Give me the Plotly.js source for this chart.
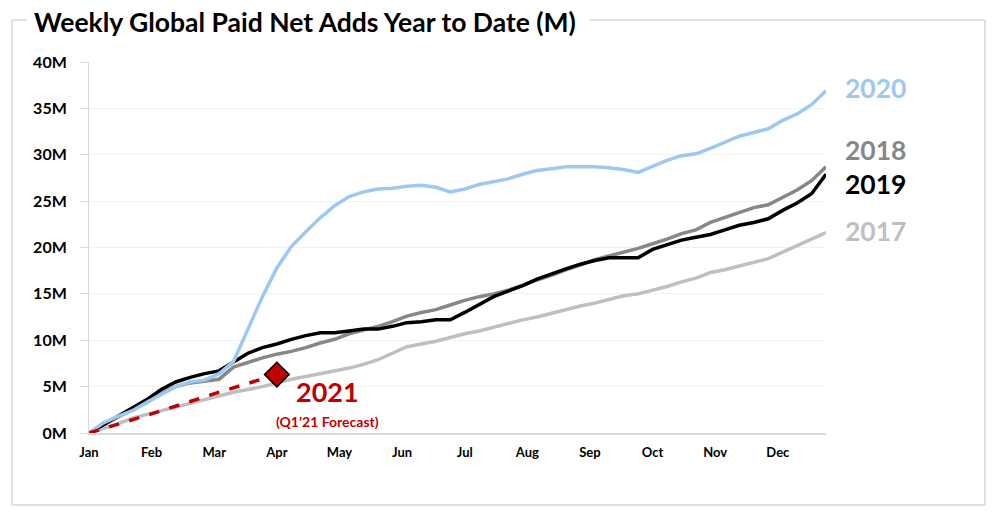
<!DOCTYPE html>
<html>
<head>
<meta charset="utf-8">
<script src="https://cdn.plot.ly/plotly-3.0.1.min.js"></script>
<style>html,body{margin:0;padding:0;background:#fff;}#chart{width:1000px;height:520px;}</style>
</head>
<body>
<div id="chart"></div>
<script>
// Weekly cumulative paid net adds (millions), week 0 = start of January
const months = ["Jan","Feb","Mar","Apr","May","Jun","Jul","Aug","Sep","Oct","Nov","Dec"];
const yTickVals = [0,5,10,15,20,25,30,35,40];
const yTickText = ["0M","5M","10M","15M","20M","25M","30M","35M","40M"];
const y2017 = [0,0.5,1.0,1.6,2.0,2.4,2.8,3.2,3.6,4.0,4.4,4.7,5.0,5.4,5.8,6.1,6.4,6.7,7.0,7.4,7.9,8.6,9.3,9.6,9.9,10.3,10.7,11.0,11.4,11.8,12.2,12.5,12.9,13.3,13.7,14.0,14.4,14.8,15.0,15.4,15.8,16.3,16.7,17.3,17.6,18.0,18.4,18.8,19.5,20.2,20.9,21.6];
const y2018 = [0,0.9,1.7,2.5,3.3,4.3,5.0,5.4,5.6,5.8,7.1,7.6,8.1,8.5,8.8,9.2,9.7,10.1,10.7,11.1,11.5,12.0,12.6,13.0,13.3,13.8,14.3,14.7,15.0,15.4,15.9,16.5,17.0,17.6,18.1,18.7,19.1,19.5,19.9,20.4,20.9,21.5,21.9,22.7,23.2,23.7,24.3,24.6,25.4,26.2,27.2,28.7];
const y2019 = [0,0.9,1.8,2.6,3.6,4.7,5.5,6.0,6.4,6.7,7.6,8.6,9.2,9.6,10.1,10.5,10.8,10.8,11.0,11.2,11.2,11.5,11.9,12.0,12.2,12.2,13.0,13.8,14.7,15.3,15.9,16.6,17.2,17.7,18.2,18.6,18.9,18.9,18.9,19.8,20.3,20.8,21.1,21.4,21.9,22.4,22.7,23.1,24.0,24.8,25.8,27.9];
const y2020 = [0,1.1,1.8,2.4,3.3,4.2,5.0,5.5,5.7,6.4,7.7,11.2,14.7,17.8,20.1,21.7,23.2,24.5,25.5,26.0,26.3,26.4,26.6,26.7,26.5,26.0,26.3,26.8,27.1,27.4,27.9,28.3,28.5,28.7,28.7,28.7,28.6,28.4,28.1,28.8,29.4,29.9,30.1,30.7,31.4,32.0,32.4,32.8,33.7,34.4,35.4,36.9];
const x2021 = [0,4,9,13];
const y2021 = [0,1.9,4.4,6.3];
const seriesLabels = ["2020","2018","2019","2017"];
const labelValues = [37.2,30.5,26.9,21.8];

const weeks = y2020.map((_, i) => i);
const colors = {"2017":"#BFBFBF","2018":"#878787","2019":"#000000","2020":"#9DC8EF","2021":"#C00000"};
const font = "Lato, 'Open Sans', sans-serif";

const traces = [
  {x: weeks, y: y2017, mode:"lines", line:{color:colors["2017"], width:3.5}, hoverinfo:"skip"},
  {x: weeks, y: y2018, mode:"lines", line:{color:colors["2018"], width:3.5}, hoverinfo:"skip"},
  {x: weeks, y: y2019, mode:"lines", line:{color:colors["2019"], width:3.5}, hoverinfo:"skip"},
  {x: weeks, y: y2020, mode:"lines", line:{color:colors["2020"], width:3.5}, hoverinfo:"skip"},
  {x: x2021, y: y2021, mode:"lines", line:{color:colors["2021"], width:3.5, dash:"dash"}, hoverinfo:"skip"},
  {x: [x2021[x2021.length-1]], y: [y2021[y2021.length-1]], mode:"markers",
   marker:{symbol:"diamond", size:19, color:colors["2021"], line:{color:"#000", width:1.5}}, hoverinfo:"skip"}
];

// plot area in pixels: x 89..826, y 62..433
const L=89, R=826, T=62, B=433;
const px = v => (v - L)/(R - L);
const py = v => (B - v)/(B - T);
const border = "#D6D6D6";

const annotations = seriesLabels.map((s, i) => ({
  text: "<b>"+s+"</b>", x: px(843), xref:"paper", xanchor:"left", y: labelValues[i], yref:"y", yanchor:"middle",
  showarrow:false, font:{family:font, size:26.5, color:colors[s]}
}));
annotations.push({text:"<b>2021</b>", x:16.5, xref:"x", y:4.5, yref:"y", xanchor:"center", yanchor:"middle",
  showarrow:false, font:{family:font, size:27, color:colors["2021"]}});
annotations.push({text:"<b>(Q1’21 Forecast)</b>", x:16.5, xref:"x", y:1.25, yref:"y", xanchor:"center", yanchor:"middle",
  showarrow:false, font:{family:font, size:14, color:colors["2021"]}});
annotations.push({text:"<b>Weekly Global Paid Net Adds Year to Date (M)</b>", x:px(32), xref:"paper", xanchor:"left",
  y:py(22), yref:"paper", yanchor:"middle", showarrow:false, font:{family:font, size:26.5, color:"#000"}});

const shapes = [
  {type:"line", xref:"paper", yref:"paper", x0:px(12), x1:px(12), y0:py(20), y1:py(505), line:{color:border, width:1.5}},
  {type:"line", xref:"paper", yref:"paper", x0:px(12), x1:px(985), y0:py(505), y1:py(505), line:{color:border, width:1.5}},
  {type:"line", xref:"paper", yref:"paper", x0:px(985), x1:px(985), y0:py(20), y1:py(505), line:{color:border, width:1.5}},
  {type:"line", xref:"paper", yref:"paper", x0:px(12), x1:px(27), y0:py(20), y1:py(20), line:{color:border, width:1.5}},
  {type:"line", xref:"paper", yref:"paper", x0:px(590), x1:px(985), y0:py(20), y1:py(20), line:{color:border, width:1.5}}
];

const layout = {
  width:1000, height:520,
  margin:{l:L, r:1000-R, t:T, b:520-B, pad:0},
  paper_bgcolor:"#fff", plot_bgcolor:"#fff",
  showlegend:false,
  xaxis:{range:[0,51], tickvals: months.map((_, i) => i*52/12), ticktext: months,
    showgrid:false, zeroline:false, showline:true, linecolor:"#D9D9D9", linewidth:2,
    ticks:"", tickfont:{family:font, size:13, color:"#000", weight:"bold"}, ticklabelstandoff:6, fixedrange:true},
  yaxis:{range:[0,40], tickvals: yTickVals, ticktext: yTickText,
    showgrid:true, gridcolor:"#F2F2F2", gridwidth:1, zeroline:false, showline:true, linecolor:"#D9D9D9", linewidth:1,
    ticks:"outside", ticklen:8, tickcolor:"#D9D9D9", tickfont:{family:font, size:16, color:"#000", weight:"bold"},
    ticklabelstandoff:10, fixedrange:true},
  annotations: annotations,
  shapes: shapes
};

Plotly.newPlot("chart", traces, layout, {displayModeBar:false, staticPlot:true});
</script>
</body>
</html>
